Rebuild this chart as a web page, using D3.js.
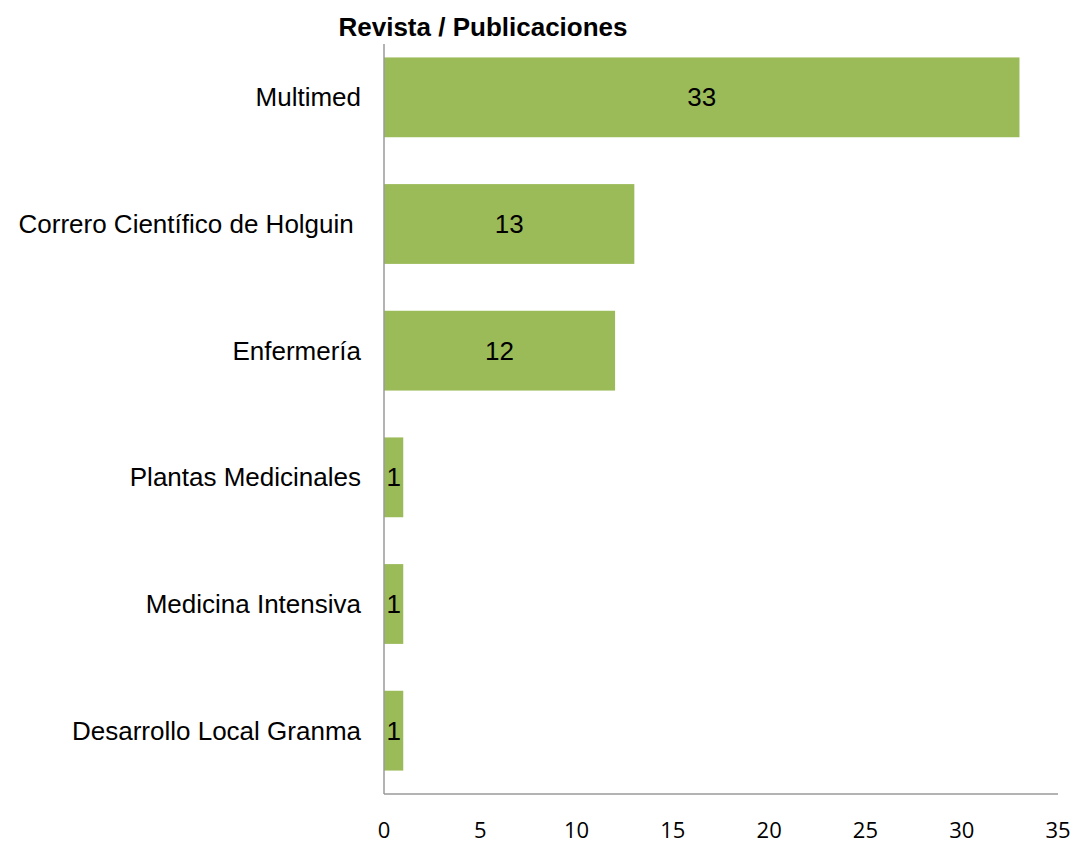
<!DOCTYPE html>
<html>
<head>
<meta charset="utf-8">
<script src="https://cdnjs.cloudflare.com/ajax/libs/d3/7.8.5/d3.min.js"></script>
<style>
  body { margin: 0; background: #fff; }
  text { font-family: "Liberation Sans", Arial, sans-serif; }
</style>
</head>
<body>
<div id="chart"></div>
<script>
const categories = ["Multimed", "Correro Científico de Holguin ", "Enfermería", "Plantas Medicinales", "Medicina Intensiva", "Desarrollo Local Granma"];
const values = [33, 13, 12, 1, 1, 1];
const xTicks = [0, 5, 10, 15, 20, 25, 30, 35];

const W = 1075, H = 842;
const plotLeft = 384, plotRight = 1058, plotTop = 34, plotBottom = 794;

const svg = d3.select("#chart").append("svg")
  .attr("width", W).attr("height", H);

const x = d3.scaleLinear().domain([0, 35]).range([plotLeft, plotRight]);
const y = d3.scaleBand().domain(categories).range([plotTop, plotBottom]).paddingInner(0.37).paddingOuter(0.185);

// title
svg.append("text")
  .attr("x", 483).attr("y", 36)
  .attr("text-anchor", "middle")
  .style("font-size", "26px").style("font-weight", "bold")
  .text("Revista / Publicaciones");

// bars
svg.selectAll("rect.bar").data(categories).enter().append("rect")
  .attr("class", "bar")
  .attr("x", x(0))
  .attr("y", d => y(d))
  .attr("width", (d, i) => x(values[i]) - x(0))
  .attr("height", y.bandwidth())
  .attr("fill", "#9BBB59");

// value labels
svg.selectAll("text.val").data(categories).enter().append("text")
  .attr("class", "val")
  .attr("x", (d, i) => (x(0) + x(values[i])) / 2)
  .attr("y", d => y(d) + y.bandwidth() / 2 + 9)
  .attr("text-anchor", "middle")
  .style("font-size", "26px").attr("fill", "#000")
  .text((d, i) => values[i]);

// category labels
svg.selectAll("text.cat").data(categories).enter().append("text")
  .attr("class", "cat")
  .attr("x", 361)
  .attr("y", d => y(d) + y.bandwidth() / 2 + 9)
  .attr("text-anchor", "end")
  .style("white-space", "pre")
  .style("font-size", "26px").attr("fill", "#000")
  .text(d => d);

// axes lines
svg.append("line")
  .attr("x1", x(0)).attr("x2", x(0)).attr("y1", plotTop + 10).attr("y2", plotBottom)
  .attr("stroke", "#9a9a9a").attr("stroke-width", 1.5);
svg.append("line")
  .attr("x1", x(0)).attr("x2", x(35)).attr("y1", plotBottom).attr("y2", plotBottom)
  .attr("stroke", "#9a9a9a").attr("stroke-width", 1.5);

// x tick labels
svg.selectAll("text.tick").data(xTicks).enter().append("text")
  .attr("class", "tick")
  .attr("x", d => x(d))
  .attr("y", 838)
  .attr("text-anchor", "middle")
  .style("font-family", "'Open Sans', sans-serif")
  .style("font-size", "22px").attr("fill", "#000")
  .text(d => d);
</script>
</body>
</html>
